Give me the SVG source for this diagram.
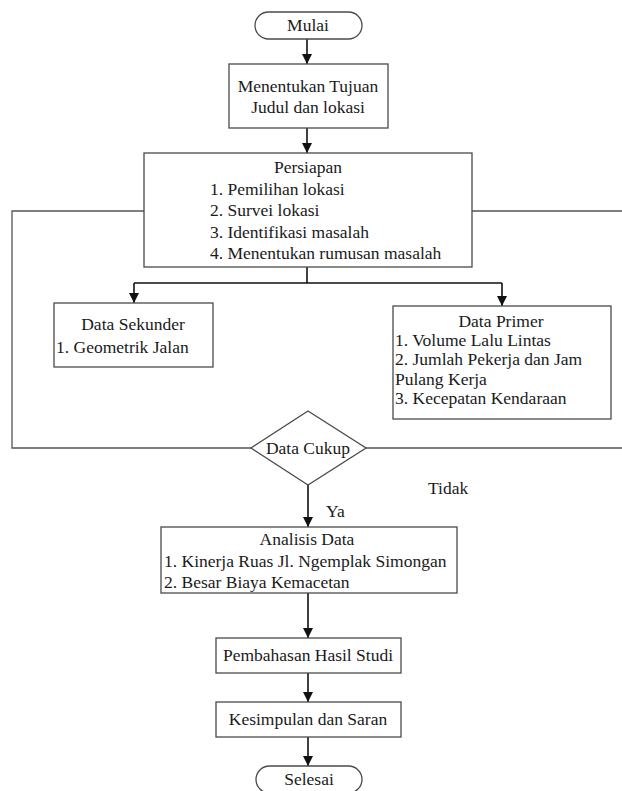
<svg xmlns="http://www.w3.org/2000/svg" width="622" height="791" viewBox="0 0 622 791">
<defs>
<style>
.box{fill:#fff;stroke:#4a4a4a;stroke-width:1.3}
.t{font-family:'Liberation Serif','Times New Roman',Times,'Noto Serif','DejaVu Serif',FreeSerif,serif;font-size:17.5px;fill:#1a1a1a}
.c{text-anchor:middle}
.ln{fill:none;stroke:#111;stroke-width:1.6}
.lp{fill:none;stroke:#555;stroke-width:1.3}
</style>
<marker id="ah" markerUnits="userSpaceOnUse" markerWidth="10" markerHeight="10" refX="10" refY="5" orient="auto">
<path d="M0,0 L10,5 L0,10 z" fill="#111"/>
</marker>
</defs>
<rect width="622" height="791" fill="#fff"/>
<g id="connectors">
<path class="lp" d="M144,211 H12 V448 H251"/>
<path class="lp" d="M472,211 H624 V448 H366"/>
<path class="ln" d="M307,39 V64" marker-end="url(#ah)"/>
<path class="ln" d="M307,128 V153" marker-end="url(#ah)"/>
<path class="ln" d="M307,267 V283"/>
<path class="ln" d="M134,283 H502"/>
<path class="ln" d="M134,283 V303" marker-end="url(#ah)"/>
<path class="ln" d="M502,283 V306" marker-end="url(#ah)"/>
<path class="ln" d="M308,485 V527" marker-end="url(#ah)"/>
<path class="ln" d="M308,593 V638" marker-end="url(#ah)"/>
<path class="ln" d="M308,673 V702" marker-end="url(#ah)"/>
<path class="ln" d="M308,737 V766" marker-end="url(#ah)"/>
<text class="t" x="326" y="517">Ya</text>
<text class="t" x="428" y="494">Tidak</text>
</g>
<g id="mulai">
<rect class="box" x="255" y="12" width="107" height="27" rx="13.5"/>
<text class="t c" x="308" y="31">Mulai</text>
</g>
<g id="tujuan">
<rect class="box" x="229" y="64" width="159" height="64"/>
<text class="t c" x="308" y="92">Menentukan Tujuan</text>
<text class="t c" x="308" y="113">Judul dan lokasi</text>
</g>
<g id="persiapan">
<rect class="box" x="144" y="153" width="328" height="114"/>
<text class="t c" x="308" y="173">Persiapan</text>
<text class="t" x="210" y="195">1. Pemilihan lokasi</text>
<text class="t" x="210" y="216">2. Survei lokasi</text>
<text class="t" x="210" y="238">3. Identifikasi masalah</text>
<text class="t" x="210" y="259">4. Menentukan rumusan masalah</text>
</g>
<g id="sekunder">
<rect class="box" x="54" y="303" width="159" height="64"/>
<text class="t c" x="133" y="330">Data Sekunder</text>
<text class="t" x="56" y="353">1. Geometrik Jalan</text>
</g>
<g id="primer">
<rect class="box" x="393" y="306" width="218" height="113"/>
<text class="t c" x="501" y="327">Data Primer</text>
<text class="t" x="395" y="346">1. Volume Lalu Lintas</text>
<text class="t" x="395" y="365">2. Jumlah Pekerja dan Jam</text>
<text class="t" x="395" y="385">Pulang Kerja</text>
<text class="t" x="395" y="404">3. Kecepatan Kendaraan</text>
</g>
<g id="cukup">
<polygon class="box" points="308,411 366,448 308,485 251,448"/>
<text class="t c" x="308" y="454">Data Cukup</text>
</g>
<g id="analisis">
<rect class="box" x="161" y="527" width="296" height="66"/>
<text class="t c" x="307" y="545">Analisis Data</text>
<text class="t" x="164" y="567">1. Kinerja Ruas Jl. Ngemplak Simongan</text>
<text class="t" x="164" y="588">2. Besar Biaya Kemacetan</text>
</g>
<g id="pembahasan">
<rect class="box" x="216" y="638" width="185" height="35"/>
<text class="t c" x="308" y="661">Pembahasan Hasil Studi</text>
</g>
<g id="kesimpulan">
<rect class="box" x="216" y="702" width="185" height="35"/>
<text class="t c" x="308" y="725">Kesimpulan dan Saran</text>
</g>
<g id="selesai">
<rect class="box" x="256" y="766" width="106" height="27" rx="13.5"/>
<text class="t c" x="309" y="785">Selesai</text>
</g>
</svg>
